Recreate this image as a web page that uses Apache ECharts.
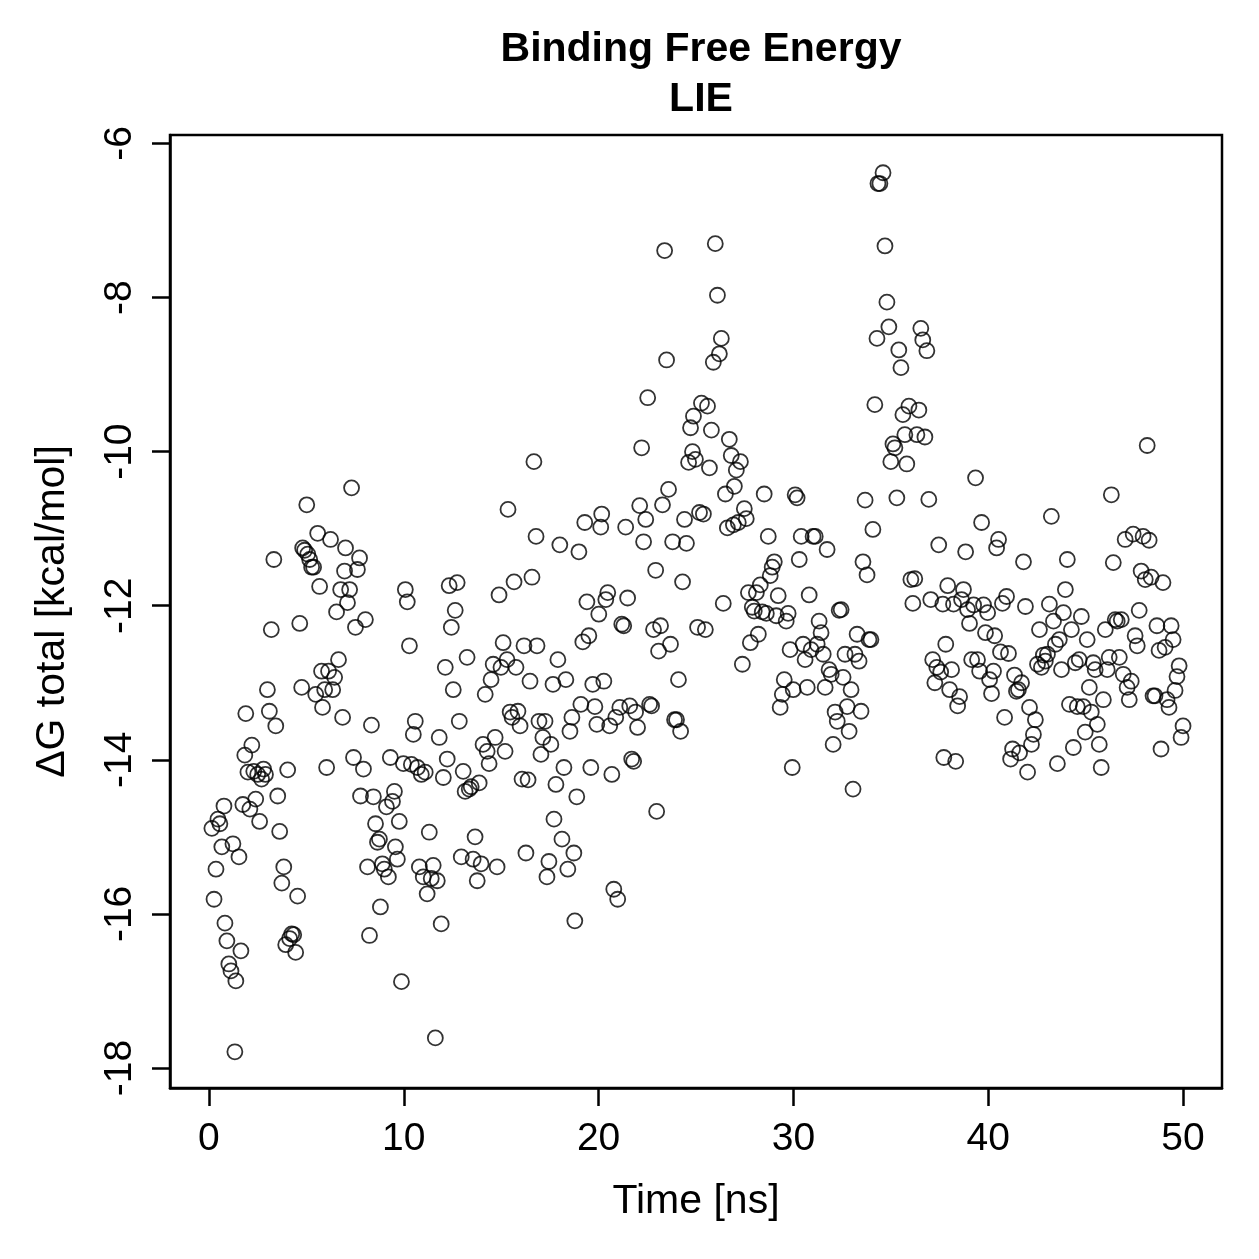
<!DOCTYPE html>
<html>
<head>
<meta charset="utf-8">
<title>Binding Free Energy - LIE</title>
<script src="https://cdn.jsdelivr.net/npm/echarts@6/dist/echarts.min.js"></script>
<style>
  html, body { margin: 0; padding: 0; background: #fff; }
  #chart { width: 1259px; height: 1259px; }
</style>
</head>
<body>
<div id="chart"></div>
<script>
// simulation time [ns]
var time = [
  0.15, 0.26, 0.36, 0.46, 0.56, 0.66, 0.77, 0.82, 0.92, 1.02, 1.13, 1.23, 1.33, 1.38, 1.54, 1.64, 1.74, 1.84, 1.89, 2.0,
  2.1, 2.2, 2.3, 2.4, 2.5, 2.6, 2.7, 2.8, 2.9, 3.0, 3.1, 3.2, 3.33, 3.43, 3.53, 3.63, 3.74, 3.84, 3.94, 4.04,
  4.14, 4.25, 4.35, 4.45, 4.55, 4.66, 4.76, 4.81, 4.91, 5.02, 5.07, 5.17, 5.27, 5.37, 5.48, 5.58, 5.68, 5.78, 5.83, 5.94,
  6.04, 6.14, 6.24, 6.35, 6.45, 6.55, 6.65, 6.76, 6.86, 6.96, 7.01, 7.11, 7.22, 7.32, 7.42, 7.52, 7.62, 7.73, 7.78, 7.93,
  8.03, 8.14, 8.24, 8.34, 8.44, 8.55, 8.65, 8.75, 8.8, 8.9, 9.0, 9.11, 9.21, 9.31, 9.42, 9.52, 9.57, 9.67, 9.77, 9.88,
  9.98, 10.08, 10.18, 10.29, 10.39, 10.49, 10.59, 10.7, 10.8, 10.9, 11.0, 11.1, 11.2, 11.31, 11.41, 11.51, 11.62, 11.72, 11.82, 11.92,
  12.03, 12.13, 12.23, 12.33, 12.44, 12.54, 12.64, 12.74, 12.85, 12.95, 13.05, 13.15, 13.25, 13.36, 13.46, 13.56, 13.66, 13.77, 13.87, 13.97,
  14.07, 14.18, 14.28, 14.38, 14.48, 14.59, 14.69, 14.79, 14.89, 14.99, 15.1, 15.2, 15.3, 15.35, 15.46, 15.56, 15.66, 15.76, 15.86, 15.97,
  16.07, 16.17, 16.27, 16.38, 16.48, 16.58, 16.68, 16.79, 16.84, 16.94, 17.04, 17.14, 17.25, 17.35, 17.45, 17.55, 17.66, 17.71, 17.81, 17.91,
  18.01, 18.12, 18.22, 18.32, 18.42, 18.53, 18.63, 18.73, 18.78, 18.88, 18.99, 19.09, 19.19, 19.29, 19.4, 19.5, 19.6, 19.7, 19.81, 19.91,
  20.01, 20.11, 20.16, 20.27, 20.37, 20.47, 20.57, 20.68, 20.78, 20.88, 20.98, 21.09, 21.19, 21.29, 21.39, 21.49, 21.6, 21.7, 21.8, 21.9,
  22.0, 22.11, 22.21, 22.31, 22.42, 22.52, 22.62, 22.72, 22.82, 22.93, 22.98, 23.08, 23.18, 23.28, 23.39, 23.49, 23.59, 23.69, 23.8, 23.9,
  24.0, 24.1, 24.21, 24.31, 24.41, 24.51, 24.62, 24.72, 24.82, 24.87, 24.97, 25.08, 25.18, 25.28, 25.38, 25.48, 25.59, 25.69, 25.79, 25.89,
  25.99, 26.1, 26.2, 26.3, 26.4, 26.51, 26.61, 26.71, 26.81, 26.92, 26.97, 27.07, 27.17, 27.28, 27.38, 27.48, 27.58, 27.69, 27.79, 27.89,
  27.99, 28.1, 28.2, 28.3, 28.4, 28.5, 28.61, 28.71, 28.81, 28.91, 29.02, 29.12, 29.22, 29.32, 29.43, 29.53, 29.63, 29.73, 29.83, 29.94,
  29.99, 30.09, 30.19, 30.3, 30.4, 30.5, 30.6, 30.71, 30.81, 30.91, 31.01, 31.12, 31.22, 31.32, 31.42, 31.53, 31.63, 31.73, 31.83, 31.94,
  32.04, 32.14, 32.25, 32.35, 32.45, 32.55, 32.65, 32.76, 32.86, 32.96, 33.06, 33.16, 33.27, 33.37, 33.47, 33.57, 33.68, 33.78, 33.88, 33.98,
  34.08, 34.18, 34.29, 34.34, 34.44, 34.6, 34.7, 34.8, 34.9, 35.0, 35.11, 35.21, 35.31, 35.41, 35.52, 35.62, 35.72, 35.82, 35.93, 36.03,
  36.13, 36.23, 36.34, 36.44, 36.54, 36.64, 36.75, 36.85, 36.95, 37.05, 37.15, 37.26, 37.36, 37.46, 37.56, 37.67, 37.72, 37.82, 37.92, 38.02,
  38.12, 38.22, 38.33, 38.43, 38.53, 38.63, 38.73, 38.84, 38.94, 39.04, 39.15, 39.25, 39.35, 39.45, 39.56, 39.66, 39.76, 39.86, 39.97, 40.07,
  40.17, 40.27, 40.33, 40.43, 40.53, 40.63, 40.73, 40.84, 40.94, 41.04, 41.15, 41.25, 41.35, 41.45, 41.55, 41.61, 41.71, 41.81, 41.91, 42.02,
  42.12, 42.22, 42.32, 42.42, 42.53, 42.63, 42.73, 42.83, 42.93, 43.04, 43.14, 43.24, 43.35, 43.45, 43.55, 43.65, 43.76, 43.86, 43.96, 44.06,
  44.17, 44.27, 44.37, 44.47, 44.57, 44.67, 44.78, 44.88, 44.98, 45.08, 45.19, 45.29, 45.39, 45.49, 45.6, 45.7, 45.8, 45.91, 46.01, 46.11,
  46.21, 46.32, 46.42, 46.52, 46.62, 46.73, 46.83, 46.93, 47.03, 47.13, 47.24, 47.34, 47.44, 47.54, 47.65, 47.75, 47.85, 47.95, 48.06, 48.16,
  48.26, 48.36, 48.46, 48.56, 48.66, 48.77, 48.87, 48.97, 49.08, 49.18, 49.28, 49.39, 49.49, 49.59, 49.69, 49.8, 49.9, 50.0
]

// total binding free energy [kcal/mol]
var deltaG = [
  -14.89, -15.81, -15.42, -14.77, -14.83, -15.13, -14.6, -16.12, -16.35, -16.65, -16.74, -15.09, -17.79, -16.87, -15.26, -16.48, -14.58, -13.94, -13.4, -14.16,
  -14.64, -13.81, -14.15, -14.51, -14.19, -14.8, -14.25, -14.12, -14.19, -13.09, -13.37, -12.31, -11.4, -13.56, -14.47, -14.93, -15.6, -15.39, -16.4, -14.13,
  -16.32, -16.26, -16.27, -16.5, -15.77, -12.23, -13.06, -11.25, -11.28, -10.69, -11.33, -11.4, -11.5, -11.5, -13.15, -11.06, -11.75, -12.85, -13.32, -13.09,
  -14.1, -12.85, -11.14, -13.09, -12.93, -12.08, -12.7, -11.79, -13.45, -11.55, -11.25, -11.96, -11.79, -10.47, -13.97, -12.28, -11.53, -11.38, -14.47, -14.12,
  -12.18, -15.39, -16.28, -13.55, -14.48, -14.83, -15.07, -15.03, -15.91, -15.35, -15.42, -14.61, -15.52, -13.97, -14.54, -14.41, -15.13, -15.29, -14.8, -16.88,
  -14.05, -11.79, -11.95, -12.52, -14.06, -13.67, -13.5, -14.1, -15.39, -14.19, -15.52, -14.16, -15.74, -14.94, -15.54, -15.37, -17.61, -15.57, -13.71, -16.13,
  -14.23, -12.8, -13.99, -11.74, -12.28, -13.09, -12.06, -11.7, -13.5, -15.26, -14.15, -14.41, -12.67, -14.38, -14.35, -15.29, -15.0, -15.57, -14.3, -15.35,
  -13.8, -13.15, -13.89, -14.05, -12.96, -12.76, -13.71, -15.39, -11.86, -12.8, -12.48, -13.89, -12.7, -10.75, -13.38, -13.45, -11.69, -12.8, -13.37, -13.56,
  -14.25, -12.52, -15.21, -14.26, -12.98, -11.63, -10.13, -11.1, -12.52, -13.5, -13.93, -13.71, -13.5, -15.52, -15.32, -13.8, -13.02, -14.77, -14.32, -12.7,
  -11.21, -15.03, -14.1, -12.96, -15.42, -13.63, -13.45, -15.21, -16.09, -14.48, -11.3, -13.28, -12.47, -10.92, -11.95, -12.39, -14.1, -13.02, -13.31, -13.54,
  -12.11, -10.98, -10.81, -12.98, -11.92, -11.83, -13.56, -14.19, -15.68, -13.45, -15.81, -13.32, -12.24, -12.26, -10.98, -11.9, -13.3, -13.99, -14.02, -13.38,
  -13.58, -10.7, -9.95, -11.17, -10.88, -9.3, -13.28, -13.3, -12.31, -11.54, -14.67, -12.59, -12.26, -10.69, -7.39, -8.81, -10.49, -12.5, -11.17, -13.48,
  -13.48, -12.96, -13.63, -11.69, -10.88, -11.19, -10.14, -9.69, -10.0, -9.54, -10.1, -12.28, -10.79, -9.37, -10.81, -12.31, -9.41, -10.21, -9.72, -8.84,
  -7.3, -7.97, -8.73, -8.53, -11.97, -10.55, -10.99, -9.84, -10.05, -10.95, -10.45, -10.24, -10.92, -10.13, -12.76, -10.74, -10.87, -11.83, -12.48, -12.02,
  -12.07, -11.83, -12.37, -11.73, -12.08, -10.55, -12.1, -11.1, -11.61, -11.5, -11.43, -12.13, -11.87, -13.32, -13.15, -12.96, -12.2, -12.1, -12.57, -14.1,
  -13.09, -10.56, -10.6, -11.4, -11.1, -12.5, -12.7, -13.06, -11.86, -12.57, -11.1, -11.1, -12.5, -12.2, -12.35, -12.63, -13.06, -11.27, -12.83, -12.89,
  -13.8, -13.38, -13.5, -12.06, -12.05, -12.93, -12.63, -13.31, -13.63, -13.09, -14.38, -12.63, -12.37, -12.72, -13.37, -11.43, -10.63, -11.6, -12.44, -12.44,
  -11.01, -9.39, -8.53, -6.52, -6.52, -6.38, -7.33, -8.06, -8.38, -10.13, -9.9, -9.95, -10.6, -8.68, -8.91, -9.52, -9.78, -10.16, -9.41, -11.66,
  -11.97, -11.65, -9.78, -9.46, -8.4, -8.55, -9.81, -8.69, -10.62, -11.92, -12.7, -13.0, -12.8, -11.21, -12.86, -11.98, -13.97, -12.5, -11.74, -13.09,
  -12.83, -11.98, -14.02, -13.3, -13.18, -11.92, -11.79, -11.3, -12.05, -12.23, -12.7, -11.99, -10.34, -12.7, -12.85, -10.92, -11.99, -12.35, -12.09, -12.96,
  -13.14, -12.85, -12.39, -11.25, -11.14, -12.6, -11.97, -13.45, -11.88, -12.62, -13.99, -13.86, -12.9, -13.11, -13.09, -13.91, -13.0, -11.43, -12.01, -14.16,
  -13.32, -13.8, -13.67, -13.48, -12.76, -12.31, -12.8, -12.64, -12.72, -12.63, -11.98, -10.84, -12.2, -12.5, -14.05, -12.44, -12.83, -12.09, -11.79, -11.4,
  -13.28, -12.31, -13.84, -12.74, -13.31, -12.7, -12.14, -13.31, -13.64, -12.44, -13.06, -13.38, -12.74, -12.83, -13.54, -13.8, -14.1, -13.22, -12.31, -12.83,
  -12.67, -10.56, -11.44, -12.18, -12.2, -12.67, -12.18, -12.89, -11.14, -13.06, -13.22, -12.98, -11.07, -12.39, -12.52, -12.06, -11.55, -11.1, -11.66, -9.92,
  -11.15, -11.63, -13.17, -13.17, -12.26, -12.58, -13.86, -11.7, -12.54, -13.22, -13.32, -12.26, -12.44, -13.1, -12.92, -12.78, -13.71, -13.56
]

var xTicks = [0, 10, 20, 30, 40, 50]
var yTicks = [-18, -16, -14, -12, -10, -8, -6]

var points = []
for (var i = 0; i < time.length; i++) {
  points.push([time[i], deltaG[i]])
}

var font = 'Liberation Sans, Arial, Helvetica, sans-serif'
var chart = echarts.init(document.getElementById('chart'), null, { renderer: 'canvas' })

var option = {
  backgroundColor: '#fff',
  animation: false,
  title: {
    text: 'Binding Free Energy\nLIE',
    left: 696,
    top: 20,
    textAlign: 'center',
    textStyle: {
      fontFamily: font,
      fontSize: 41,
      fontWeight: 'bold',
      color: '#000',
      lineHeight: 50
    }
  },
  grid: {
    left: 170,
    right: 37,
    top: 135,
    bottom: 171,
    show: true,
    borderColor: '#000',
    borderWidth: 2.5,
    backgroundColor: 'transparent'
  },
  xAxis: {
    type: 'value',
    min: -2,
    max: 52,
    name: 'Time [ns]',
    nameLocation: 'middle',
    nameGap: 93,
    nameTextStyle: { fontFamily: font, fontSize: 41, color: '#000' },
    axisLine: { show: true, onZero: false, lineStyle: { color: '#000', width: 2.5 } },
    axisTick: {
      show: true,
      length: 18,
      customValues: xTicks,
      lineStyle: { color: '#000', width: 2.5 }
    },
    axisLabel: {
      customValues: xTicks,
      margin: 32,
      fontFamily: font,
      fontSize: 39,
      color: '#000'
    },
    splitLine: { show: false }
  },
  yAxis: {
    type: 'value',
    min: -18.26,
    max: -5.89,
    name: 'ΔG total [kcal/mol]',
    nameLocation: 'middle',
    nameGap: 97,
    nameRotate: 90,
    nameTextStyle: { fontFamily: font, fontSize: 41, color: '#000' },
    axisLine: { show: true, onZero: false, lineStyle: { color: '#000', width: 2.5 } },
    axisTick: {
      show: true,
      length: 18,
      customValues: yTicks,
      lineStyle: { color: '#000', width: 2.5 }
    },
    axisLabel: {
      customValues: yTicks,
      rotate: 90,
      margin: 30,
      fontFamily: font,
      fontSize: 39,
      color: '#000'
    },
    splitLine: { show: false }
  },
  series: [{
    type: 'scatter',
    data: points,
    symbol: 'circle',
    symbolSize: 15,
    itemStyle: {
      color: 'rgba(0,0,0,0)',
      borderColor: '#000',
      borderWidth: 1.8
    }
  }]
}

chart.setOption(option)
</script>
</body>
</html>
